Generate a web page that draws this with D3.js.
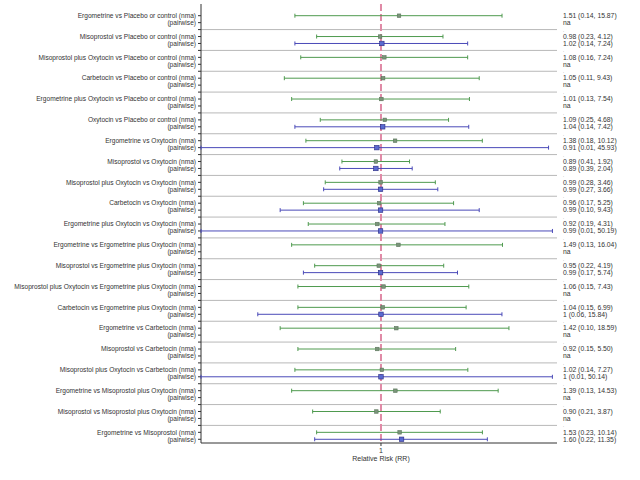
<!DOCTYPE html>
<html><head><meta charset="utf-8">
<script src="https://cdn.jsdelivr.net/npm/d3@7"></script>
<style>body{margin:0;background:#fff}svg{display:block}text{font-family:"Liberation Sans",Arial,sans-serif}</style>
</head><body><svg id="c" width="640" height="480"></svg>
<script>
const comparisons = [
 "Ergometrine vs Placebo or control","Misoprostol vs Placebo or control","Misoprostol plus Oxytocin vs Placebo or control",
 "Carbetocin vs Placebo or control","Ergometrine plus Oxytocin vs Placebo or control","Oxytocin vs Placebo or control",
 "Ergometrine vs Oxytocin","Misoprostol vs Oxytocin","Misoprostol plus Oxytocin vs Oxytocin","Carbetocin vs Oxytocin",
 "Ergometrine plus Oxytocin vs Oxytocin","Ergometrine vs Ergometrine plus Oxytocin","Misoprostol vs Ergometrine plus Oxytocin",
 "Misoprostol plus Oxytocin vs Ergometrine plus Oxytocin","Carbetocin vs Ergometrine plus Oxytocin","Ergometrine vs Carbetocin",
 "Misoprostol vs Carbetocin","Misoprostol plus Oxytocin vs Carbetocin","Ergometrine vs Misoprostol plus Oxytocin",
 "Misoprostol vs Misoprostol plus Oxytocin","Ergometrine vs Misoprostol"];
const nmaRR  = [1.51,0.98,1.08,1.05,1.01,1.09,1.38,0.89,0.99,0.96,0.92,1.49,0.95,1.06,1.04,1.42,0.92,1.02,1.39,0.90,1.53];
const nmaLo  = [0.14,0.23,0.16,0.11,0.13,0.25,0.18,0.41,0.28,0.17,0.19,0.13,0.22,0.15,0.15,0.10,0.15,0.14,0.13,0.21,0.23];
const nmaHi  = [15.87,4.12,7.24,9.43,7.54,4.68,10.12,1.92,3.46,5.25,4.31,16.04,4.19,7.43,6.99,18.59,5.50,7.27,14.53,3.87,10.14];
const nmaTxt = ["1.51 (0.14, 15.87)","0.98 (0.23, 4.12)","1.08 (0.16, 7.24)","1.05 (0.11, 9.43)","1.01 (0.13, 7.54)","1.09 (0.25, 4.68)",
 "1.38 (0.18, 10.12)","0.89 (0.41, 1.92)","0.99 (0.28, 3.46)","0.96 (0.17, 5.25)","0.92 (0.19, 4.31)","1.49 (0.13, 16.04)",
 "0.95 (0.22, 4.19)","1.06 (0.15, 7.43)","1.04 (0.15, 6.99)","1.42 (0.10, 18.59)","0.92 (0.15, 5.50)","1.02 (0.14, 7.27)",
 "1.39 (0.13, 14.53)","0.90 (0.21, 3.87)","1.53 (0.23, 10.14)"];
const pwRR   = [null,1.02,null,null,null,1.04,0.91,0.89,0.99,0.99,0.99,null,0.99,null,1,null,null,1,null,null,1.60];
const pwLo   = [null,0.14,null,null,null,0.14,0.01,0.39,0.27,0.10,0.01,null,0.17,null,0.06,null,null,0.01,null,null,0.22];
const pwHi   = [null,7.24,null,null,null,7.42,45.93,2.04,3.66,9.43,50.19,null,5.74,null,15.84,null,null,50.14,null,null,11.35];
const pwTxt  = ["na","1.02 (0.14, 7.24)","na","na","na","1.04 (0.14, 7.42)","0.91 (0.01, 45.93)","0.89 (0.39, 2.04)",
 "0.99 (0.27, 3.66)","0.99 (0.10, 9.43)","0.99 (0.01, 50.19)","na","0.99 (0.17, 5.74)","na","1 (0.06, 15.84)","na","na",
 "1 (0.01, 50.14)","na","na","1.60 (0.22, 11.35)"];
const xTicks = [1];

const svg = d3.select("#c");
const L = 201, R = 557, T = 4, B = 443;
const x = d3.scaleLog().domain([0.0164, 55.7]).range([L, R]).clamp(true);
const n = comparisons.length;
const y = d3.scaleLinear().domain([0, n*3 - 1]).range([15.7, 15.7 + (n*3 - 1)*6.944]);
const green = "#4f9a4f", blue = "#4a4ab8";
const fs = 6.6;

for (let i = 0; i < n - 1; i++) {
  svg.append("line").attr("x1", L).attr("x2", R).attr("y1", y(i*3+2)).attr("y2", y(i*3+2))
    .attr("stroke", "#b8b8b8").attr("stroke-width", 1);
}
svg.append("line").attr("x1", x(1)).attr("x2", x(1)).attr("y1", T).attr("y2", B)
  .attr("stroke", "#e08aa6").attr("stroke-width", 2).attr("stroke-dasharray", "7,3");

svg.append("line").attr("x1", L).attr("x2", L).attr("y1", T).attr("y2", B).attr("stroke", "#333").attr("stroke-width", 1);
for (let i = 0; i < n*3 - 1; i++) {
  svg.append("line").attr("x1", L - 3).attr("x2", L).attr("y1", y(i)).attr("y2", y(i)).attr("stroke", "#333");
}
svg.append("line").attr("x1", L).attr("x2", R).attr("y1", B).attr("y2", B).attr("stroke", "#333");
xTicks.forEach(t => {
  svg.append("line").attr("x1", x(t)).attr("x2", x(t)).attr("y1", B).attr("y2", B + 3).attr("stroke", "#333");
  svg.append("text").attr("x", x(t)).attr("y", B + 10).attr("text-anchor", "middle")
    .attr("font-size", 7).attr("fill", "#333").text(t);
});
svg.append("text").attr("x", x(1)).attr("y", 461).attr("text-anchor", "middle")
  .attr("font-size", 7).attr("fill", "#333").text("Relative Risk (RR)");

function ci(row, lo, hi, rr, col, isPw) {
  const yy = y(row);
  svg.append("line").attr("x1", x(lo)).attr("x2", x(hi)).attr("y1", yy).attr("y2", yy).attr("stroke", col).attr("stroke-width", 1);
  [lo, hi].forEach(v => svg.append("line").attr("x1", x(v)).attr("x2", x(v)).attr("y1", yy - 2).attr("y2", yy + 2).attr("stroke", col));
  const s = isPw ? 4.5 : 3.5;
  svg.append("rect").attr("x", x(rr) - s/2).attr("y", yy - s/2).attr("width", s).attr("height", s)
    .attr("fill", isPw ? "#5a6ad0" : "#7a947a").attr("stroke", isPw ? "#2a2a80" : "#5a755a").attr("stroke-width", 0.6);
}

for (let i = 0; i < n; i++) {
  const r0 = i*3;
  svg.append("text").attr("x", L - 5).attr("y", y(r0) + 2.3).attr("text-anchor", "end")
    .attr("font-size", fs).attr("fill", "#333").text(comparisons[i] + " (nma)");
  svg.append("text").attr("x", L - 5).attr("y", y(r0+1) + 2.3).attr("text-anchor", "end")
    .attr("font-size", fs).attr("fill", "#333").text("(pairwise)");
  ci(r0, nmaLo[i], nmaHi[i], nmaRR[i], green, false);
  if (pwRR[i] !== null) ci(r0+1, pwLo[i], pwHi[i], pwRR[i], blue, true);
  svg.append("text").attr("x", 563).attr("y", y(r0) + 2.3).attr("font-size", fs + 0.2).attr("fill", "#333").text(nmaTxt[i]);
  svg.append("text").attr("x", 563).attr("y", y(r0+1) + 2.3).attr("font-size", fs + 0.2).attr("fill", "#333").text(pwTxt[i]);
  if (i < n - 1) svg.append("text").attr("x", 563).attr("y", y(r0+2) + 2).attr("font-size", 4).attr("fill", "#666").text(".");
}
</script></body></html>
